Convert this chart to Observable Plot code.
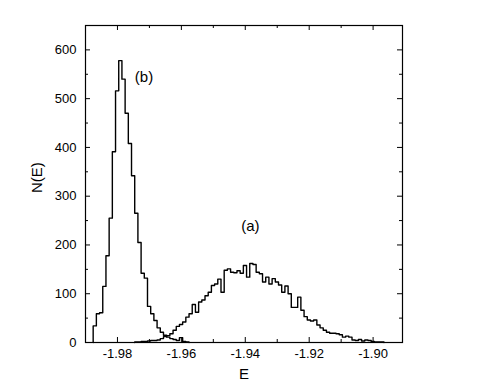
<!DOCTYPE html>
<html>
<head>
<meta charset="utf-8">
<script src="https://cdn.jsdelivr.net/npm/d3@7"></script>
<script src="https://cdn.jsdelivr.net/npm/@observablehq/plot@0.6"></script>
<style>
  html, body { margin: 0; padding: 0; background: #fff; }
</style>
</head>
<body>
<div id="chart"></div>
<script>
// Histogram bins: uniform width, left edge of bin index k = binStart + k * binWidth
const binStart = -1.9896;
const binWidth = 0.001;

// Series (b): counts starting at bin index startB
const startB = 2;
const countsB = [34, 59, 61, 115, 178, 255, 391, 516, 578, 540, 470, 408, 342, 265, 205, 142, 132, 74, 59, 45, 30, 21, 15, 11, 8, 6, 4, 10, 2, 1];

// Series (a): counts starting at bin index startA
const startA = 15;
const countsA = [1, 1, 2, 2, 3, 4, 4, 5, 8, 12, 14, 18, 25, 33, 37, 42, 52, 59, 78, 62, 83, 87, 96, 103, 117, 120, 130, 103, 148, 151, 144, 143, 147, 142, 158, 134, 162, 160, 144, 141, 124, 134, 120, 131, 124, 118, 103, 116, 100, 72, 72, 93, 66, 53, 46, 44, 46, 36, 30, 25, 21, 19, 19, 18, 16, 11, 13, 11, 5, 4, 6, 3, 5, 4, 2, 1, 1, 1];

// Axis ticks
const xMajor = [-1.98, -1.96, -1.94, -1.92, -1.90];
const xMinor = [-1.97, -1.95, -1.93, -1.91];
const yMajor = [0, 100, 200, 300, 400, 500, 600];
const yMinor = [50, 150, 250, 350, 450, 550];

// Annotations
const labels = [
  {text: "(b)", E: -1.9717, N: 545},
  {text: "(a)", E: -1.9384, N: 238}
];

function edge(k) { return binStart + k * binWidth; }
function stepPoints(start, counts) {
  const pts = [{E: edge(start), N: 0}];
  counts.forEach((c, i) => pts.push({E: edge(start + i), N: c}));
  pts.push({E: edge(start + counts.length), N: 0});
  return pts;
}

const W = 485, H = 389;
const mL = 85, mR = 83, mT = 25, mB = 47;
const pw = W - mL - mR, ph = H - mT - mB;
const font = "'Liberation Sans', Arial, Helvetica, sans-serif";

const chart = Plot.plot({
  width: W,
  height: H,
  marginLeft: mL,
  marginRight: mR,
  marginTop: mT,
  marginBottom: mB,
  style: {fontFamily: font, fontSize: "13px", background: "#fff", color: "#000"},
  x: {domain: [-1.99, -1.8908], axis: null},
  y: {domain: [0, 650], axis: null},
  marks: [
    // tick labels
    Plot.axisX({ticks: xMajor, tickSize: 0, tickPadding: 6, tickFormat: d => d.toFixed(2), label: null, fontSize: 13}),
    Plot.axisY({ticks: yMajor, tickSize: 0, tickPadding: 9, tickFormat: d => String(d), label: null, fontSize: 13}),
    // inward ticks: bottom & top
    Plot.tickX(xMajor, {x: d => d, insetTop: ph - 5, stroke: "#000", strokeWidth: 1}),
    Plot.tickX(xMajor, {x: d => d, insetBottom: ph - 5, stroke: "#000", strokeWidth: 1}),
    Plot.tickX(xMinor, {x: d => d, insetTop: ph - 3, stroke: "#000", strokeWidth: 1}),
    Plot.tickX(xMinor, {x: d => d, insetBottom: ph - 3, stroke: "#000", strokeWidth: 1}),
    // inward ticks: left & right
    Plot.tickY(yMajor, {y: d => d, insetRight: pw - 5, stroke: "#000", strokeWidth: 1}),
    Plot.tickY(yMajor, {y: d => d, insetLeft: pw - 5, stroke: "#000", strokeWidth: 1}),
    Plot.tickY(yMinor, {y: d => d, insetRight: pw - 3, stroke: "#000", strokeWidth: 1}),
    Plot.tickY(yMinor, {y: d => d, insetLeft: pw - 3, stroke: "#000", strokeWidth: 1}),
    // histograms as step outlines
    Plot.line(stepPoints(startA, countsA), {x: "E", y: "N", curve: "step-after", stroke: "#000", strokeWidth: 1.4}),
    Plot.line(stepPoints(startB, countsB), {x: "E", y: "N", curve: "step-after", stroke: "#000", strokeWidth: 1.4}),
    Plot.frame({stroke: "#000", strokeWidth: 1.2}),
    // annotations
    Plot.text(labels, {x: "E", y: "N", text: "text", fontSize: 15, fill: "#000"}),
    // axis titles
    Plot.text(["E"], {frameAnchor: "bottom", dy: 36, fontSize: 15, fill: "#000"}),
    Plot.text(["N(E)"], {frameAnchor: "left", dx: -48, dy: 9, rotate: -90, fontSize: 15, fill: "#000"})
  ]
});
document.getElementById("chart").appendChild(chart);
</script>
</body>
</html>
